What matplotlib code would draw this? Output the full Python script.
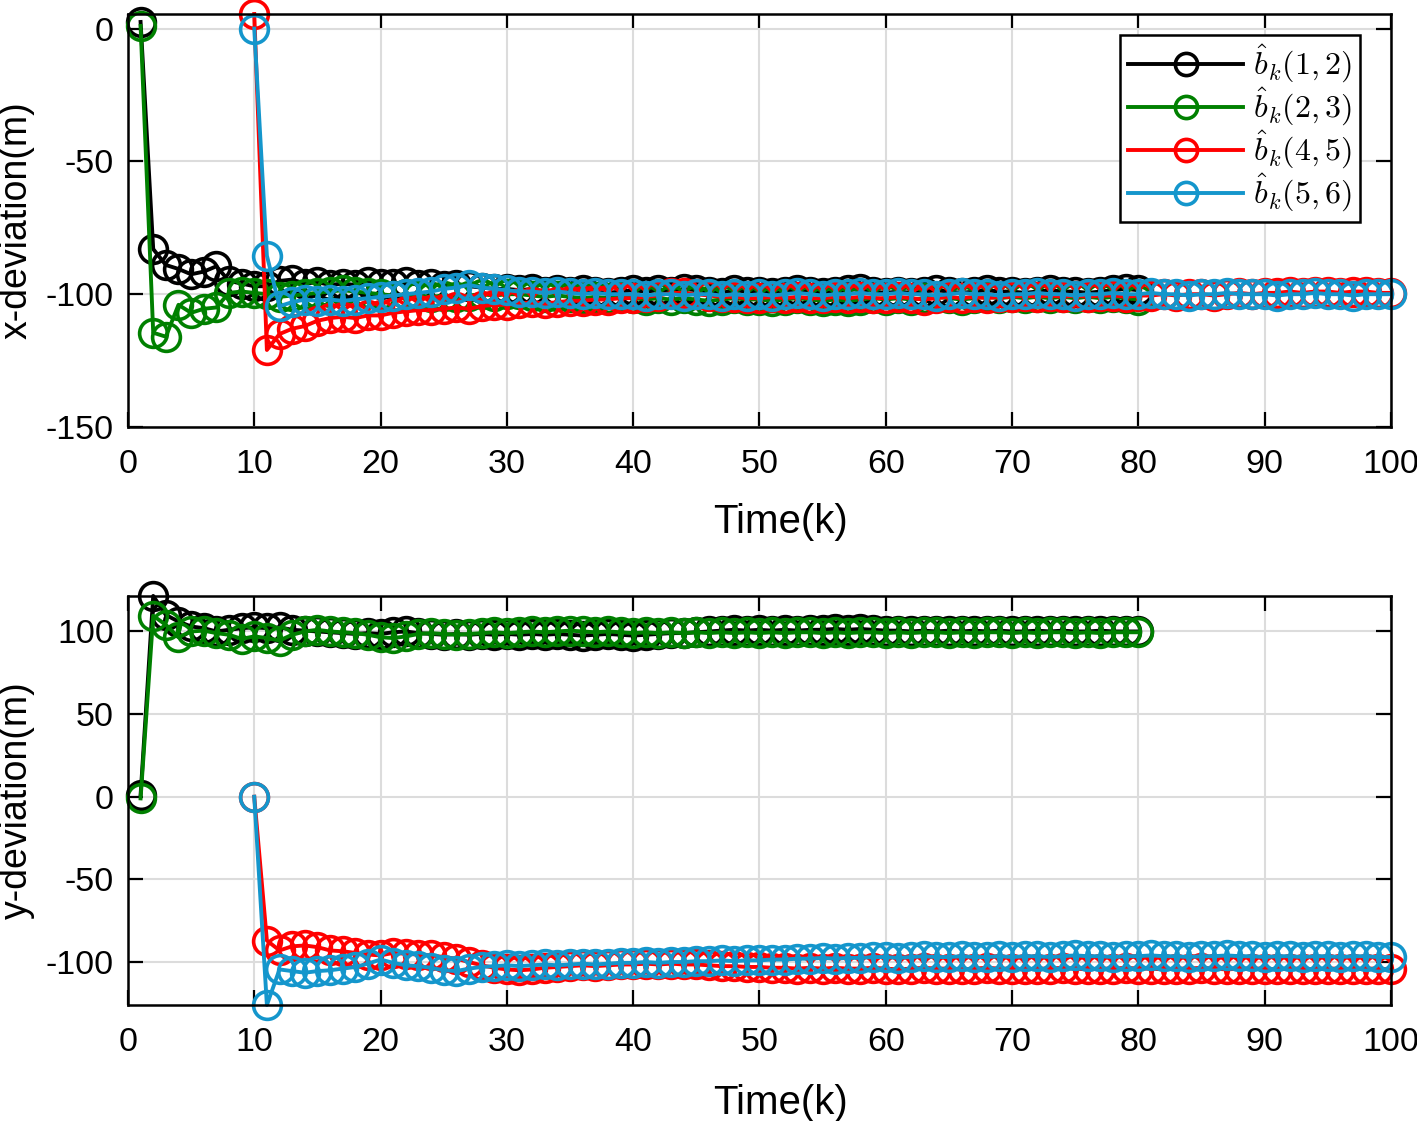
import numpy as np
import matplotlib
matplotlib.use('Agg')
import matplotlib.pyplot as plt

plt.rcParams['font.family'] = ['Liberation Sans', 'DejaVu Sans']
plt.rcParams['mathtext.fontset'] = 'cm'
plt.rcParams['axes.unicode_minus'] = False

# time steps
k_a = np.arange(1, 81)     # pairs (1,2), (2,3)
k_b = np.arange(10, 101)   # pairs (4,5), (5,6)

# x-deviation
x12 = [2.5, -83, -89, -90.5, -92.5, -91.5, -89.5, -95, -96, -97,
       -97, -95, -94.5, -96, -95.5, -96.5, -96, -96.5, -95.5, -96,
       -96, -95.5, -96.5, -96, -97, -96.5, -97, -97.5, -98, -98,
       -98.5, -98, -99, -98.5, -99, -98.5, -99, -99.5, -99, -98.5,
       -99, -98.5, -99, -98, -98.5, -99, -99.5, -98.5, -99, -99,
       -99.5, -99, -98.5, -99, -99.5, -99, -98.5, -98, -99, -99.5,
       -99, -99.5, -99, -98.5, -99, -99.5, -99, -98.5, -99, -99,
       -99.5, -99, -98.5, -99, -99, -99.5, -99, -98.5, -98, -98.5]
x23 = [1, -114.5, -116, -104, -107, -105.5, -105, -99.5, -99, -99.5,
       -100, -101, -100.5, -100, -99.5, -99, -98.5, -99, -99.5, -100,
       -100.5, -100, -100.5, -101, -100.5, -101, -100.5, -100, -100.5, -100,
       -100, -100.5, -101, -100.5, -101, -101.5, -101, -101.5, -101, -101.5,
       -102, -101.5, -102, -101.5, -102, -102.5, -102, -101.5, -102, -102,
       -102.5, -102, -101.5, -102, -102.5, -102, -102.5, -102, -101.5, -102,
       -101.5, -102, -101.5, -101, -101.5, -102, -101.5, -101, -101.5, -101,
       -101.5, -101, -101.5, -101, -101.5, -101, -101.5, -101, -101.5, -102]
x45 = [5.5, -121, -115, -113, -112, -110, -109, -108.5, -109, -108,
       -108, -107, -106.5, -106, -106, -105.5, -105, -105.5, -104.5, -104,
       -104, -103.5, -103, -103.5, -103, -102.5, -102.5, -102, -102, -101.5,
       -101.5, -101, -100.5, -99.5, -99.5, -100, -100.5, -101, -101, -101.5,
       -101.5, -101, -101.5, -101, -101.5, -101.5, -101, -101.5, -101, -101.5,
       -101.5, -101, -101.5, -102, -101.5, -101, -101.5, -101, -101.5, -101,
       -101, -100.5, -101, -100.5, -101, -100.5, -101, -100.5, -100.5, -101,
       -100.5, -100.5, -100, -100.5, -100, -100, -100.5, -100, -99.5, -100,
       -99.5, -99.5, -99, -99.5, -99, -99, -99.5, -99, -99, -99.5,
       -99.5]
x56 = [0, -85.5, -104.5, -103, -102, -102.5, -102, -102.5, -102, -101.5,
       -101, -100.5, -100, -99.5, -99, -98, -97.5, -96.5, -97.5, -98,
       -98.5, -99, -99, -99.5, -99, -99.5, -100, -99.5, -100, -100,
       -100, -100.5, -100, -100, -100.5, -100, -100, -100.5, -100, -100.5,
       -100, -100.5, -100, -99.5, -100, -100.5, -100, -100, -99.5, -100,
       -100, -99.5, -100, -100, -100.5, -100, -99.5, -100, -100, -100.5,
       -100, -100, -99.5, -100, -100, -100.5, -100, -100, -99.5, -100,
       -100, -99.5, -100, -100, -100.5, -100, -100, -99.5, -100, -100,
       -100, -100.5, -100, -100, -99.5, -100, -100, -100.5, -100, -100,
       -100]

# y-deviation
y12 = [1, 121.5, 110, 106, 103, 102, 100, 101, 102, 102.5,
       102, 102.5, 101, 100.5, 100, 99.5, 99, 98.5, 99, 98.5,
       99.5, 100, 99, 98.5, 98, 98.5, 98, 98.5, 98, 98.5,
       98, 98.5, 98, 98.5, 98, 97.5, 98, 98.5, 98, 97.5,
       98, 98.5, 99, 99, 99.5, 100, 100.5, 101, 100.5, 101,
       100.5, 101, 100.5, 101, 101, 101.5, 101, 101.5, 101, 100.5,
       100.5, 100, 100.5, 100, 100.5, 100, 100.5, 100, 100.5, 100,
       100, 100.5, 100, 100.5, 100, 100, 100.5, 100, 100, 100]
y23 = [-1, 109.5, 104, 96.5, 100, 100.5, 99, 98, 95.5, 97,
       96, 94.5, 98, 100, 101, 100, 99.5, 99, 98, 96.5,
       96, 97, 98.5, 99, 98.5, 98, 98.5, 99, 99.5, 99,
       99.5, 100, 99.5, 100, 100.5, 100, 99.5, 100, 99.5, 99,
       99.5, 99, 99.5, 99, 99.5, 99, 99.5, 99, 99.5, 99,
       99.5, 99, 99.5, 99.5, 99, 99.5, 99, 99.5, 99.5, 99,
       99.5, 99, 99.5, 99.5, 99, 99.5, 99, 99.5, 99.5, 99,
       99.5, 99, 99.5, 99.5, 99, 99.5, 99, 99.5, 99.5, 99.5]
y45 = [0, -87, -93, -90.5, -90, -91, -93, -93.5, -94.5, -95.5,
       -96, -94.5, -95, -95.5, -96, -97, -98, -100, -102, -103.5,
       -104.5, -105, -104.5, -103.5, -103, -102.5, -102, -102.5, -102, -101.5,
       -101.5, -101, -101.5, -101, -101.5, -101.5, -102, -102.5, -102.5, -103,
       -103, -103.5, -103.5, -104, -103.5, -104, -103.5, -104, -104, -103.5,
       -104, -104.5, -104, -103.5, -104, -104, -104.5, -104, -103.5, -104,
       -104, -104.5, -104, -104, -103.5, -104, -104.5, -104, -104, -103.5,
       -104, -104, -104.5, -104, -104, -103.5, -104, -104.5, -104, -104,
       -104, -104.5, -104, -104, -104.5, -104, -104, -104.5, -104, -104,
       -104.5]
y56 = [0, -126, -104.5, -105.5, -106.5, -105.5, -105, -104, -103, -101,
       -98.5, -100.5, -102, -102.5, -103.5, -105, -105.5, -104, -103, -102.5,
       -102, -102.5, -102, -101.5, -102, -101.5, -101, -101.5, -101, -100.5,
       -100.5, -100, -100.5, -100, -100, -99.5, -99.5, -99, -99.5, -99,
       -99, -98.5, -98.5, -98, -98, -97.5, -98, -97.5, -97.5, -97,
       -97, -97.5, -97, -96.5, -97, -97, -96.5, -97, -97, -96.5,
       -97, -96.5, -96.5, -97, -96.5, -96, -96.5, -96.5, -97, -96.5,
       -96.5, -96, -96.5, -96.5, -97, -96.5, -96.5, -96, -96.5, -96.5,
       -97, -96.5, -96.5, -97, -96.5, -96.5, -97, -96.5, -96.5, -97,
       -97]

labels = [r'$\hat{b}_k(1,2)$', r'$\hat{b}_k(2,3)$', r'$\hat{b}_k(4,5)$', r'$\hat{b}_k(5,6)$']
colors = ['black', '#008000', '#ff0000', '#1496cc']

fig = plt.figure(figsize=(14.17, 11.21), dpi=100)
ax1 = fig.add_axes([0.0903, 0.6191, 0.8913, 0.3684])
ax2 = fig.add_axes([0.0903, 0.1035, 0.8913, 0.3649])

sty = dict(lw=2.8, marker='o', ms=20, mfc='none', mew=2.6, clip_on=False)

for ax, series, ylab, xl_y in [(ax1, [x12, x23, x45, x56], 'x-deviation(m)', -0.185),
                               (ax2, [y12, y23, y45, y56], 'y-deviation(m)', -0.193)]:
    ks = [k_a, k_a, k_b, k_b]
    for kk, vals, c, lab in zip(ks, series, colors, labels):
        ax.plot(kk, vals, color=c, mec=c, label=lab, **sty)
    ax.set_xlim(0, 100)
    ax.set_xticks(np.arange(0, 101, 10))
    ax.grid(True, color='#dcdcdc', lw=1.5)
    ax.set_axisbelow(True)
    ax.tick_params(direction='in', length=11, width=1.6, labelsize=24.5,
                   top=True, right=True)
    ax.tick_params(axis='x', pad=16)
    ax.tick_params(axis='y', pad=10)
    for s in ax.spines.values():
        s.set_linewidth(1.8)
    ax.set_xlabel('Time(k)', fontsize=29)
    ax.set_ylabel(ylab, fontsize=27)
    ax.xaxis.set_label_coords(0.517, xl_y)
    ax.yaxis.set_label_coords(-0.0736, 0.5)

top = max(max(x12), max(x23), max(x45), max(x56))
ax1.set_ylim(-150, top)
ax1.set_yticks([-150, -100, -50, 0])
lo = min(min(y12), min(y23), min(y45), min(y56))
hi = max(max(y12), max(y23), max(y45), max(y56))
ax2.set_ylim(lo, hi)
ax2.set_yticks([-100, -50, 0, 50, 100])

leg = ax1.legend(loc='upper right', bbox_to_anchor=(0.9755, 0.949), borderaxespad=0,
                 fontsize=23, numpoints=1, handlelength=3.6, fancybox=False,
                 edgecolor='black', framealpha=1, labelspacing=0.02,
                 handletextpad=0.3, borderpad=0.25, markerscale=0.8)
leg.get_frame().set_linewidth(1.8)

fig.savefig('out.png', dpi=100)
